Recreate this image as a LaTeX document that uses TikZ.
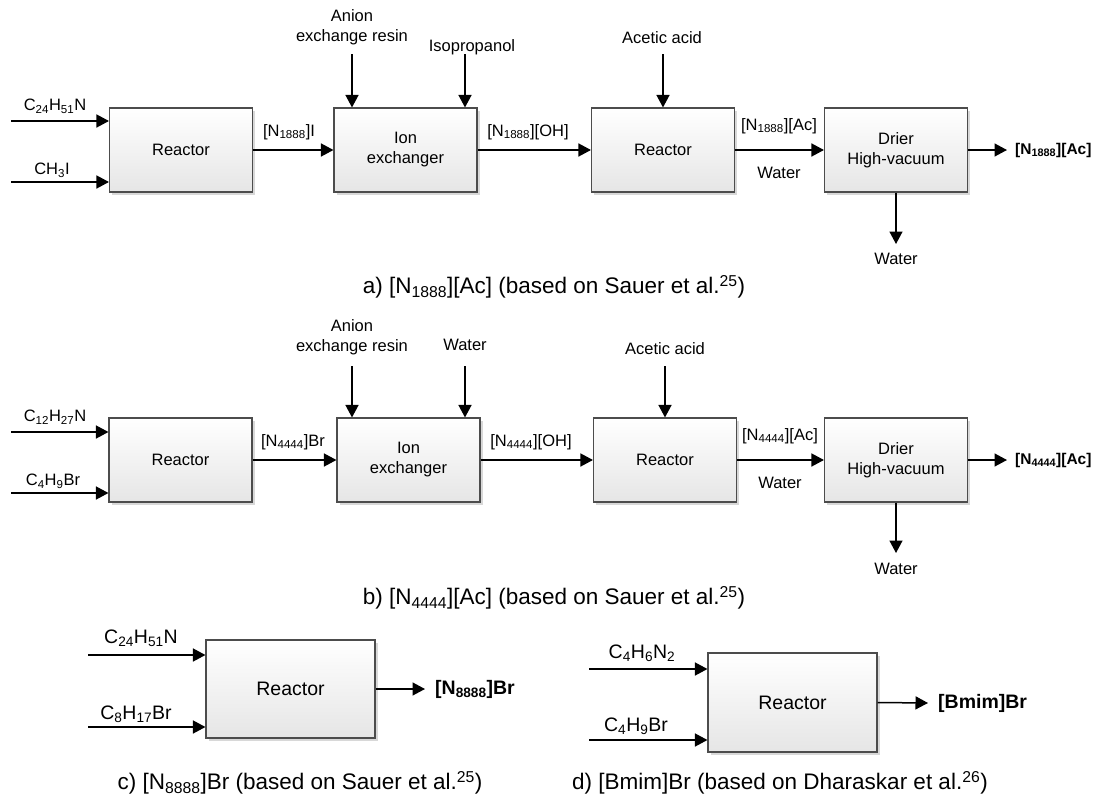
\documentclass[tikz,border=0pt]{standalone}
\usepackage{fontspec}
\setmainfont{Liberation Sans}
\usetikzlibrary{arrows.meta,shadows}
\newcommand\fsA{\fontsize{16.5}{20}\selectfont}
\newcommand\fsO{\fontsize{15.5}{19}\selectfont}
\newcommand\fsB{\fontsize{19.5}{23}\selectfont}
\newcommand\fsC{\fontsize{22.5}{26}\selectfont}
\begin{document}
\begin{tikzpicture}[x=1pt,y=-1pt,
  box/.style={draw=gray!60!black, line width=1.1pt, top color=white, bottom color=gray!20,
    minimum width=143pt, minimum height=84pt, align=center, font=\fsA, inner sep=0pt,
    drop shadow={shadow xshift=2.5pt, shadow yshift=-2.5pt, opacity=0.3, fill=gray}},
  bigbox/.style={box, minimum width=169pt, minimum height=98pt, font=\fsB},
  arr/.style={line width=1.5pt, -{Triangle[length=12.5pt,width=13pt]}},
  lbl/.style={font=\fsA, inner sep=0pt, align=center},
  lblB/.style={font=\fsB, inner sep=0pt, align=center},
  captxt/.style={font=\fsC, inner sep=0pt},
  outl/.style={font=\fsO\bfseries, inner sep=0pt, anchor=west},
  outlB/.style={font=\fsB\bfseries, inner sep=0pt, anchor=west}]
\fill[white] (0,0) rectangle (1096,795);
\useasboundingbox (0,0) rectangle (1096,795);

% ---------------- panel a ----------------
\node[box] (aR) at (181,150) {Reactor};
\node[box] (aI) at (405.5,150) {Ion\\exchanger};
\node[box] (aR2) at (663,150) {Reactor};
\node[box] (aD) at (896,150) {Drier\\High-vacuum};
\coordinate (aIn1) at (11,121);
\coordinate (aIn2) at (11,182);
\draw[arr] (aIn1) -- (aIn1 -| aR.west);
\draw[arr] (aIn2) -- (aIn2 -| aR.west);
\node[lbl] (aL1) at (55,106) {C\textsubscript{24}H\textsubscript{51}N};
\node[lbl] (aL2) at (52,170) {CH\textsubscript{3}I};
\draw[arr] (aR.east) -- (aI.west);
\node[lbl] (aL3) at (289,132) {[N\textsubscript{1888}]I};
\coordinate (aAn) at (352,54);
\draw[arr] (aAn) -- (aAn |- aI.north);
\node[lbl] (aL4) at (352,27) {Anion\\exchange resin};
\coordinate (aIso) at (465,54);
\draw[arr] (aIso) -- (aIso |- aI.north);
\node[lbl] (aL5) at (472,47) {Isopropanol};
\draw[arr] (aI.east) -- (aR2.west);
\node[lbl] (aL6) at (528,132) {[N\textsubscript{1888}][OH]};
\coordinate (aAc) at (663,54);
\draw[arr] (aAc) -- (aR2.north);
\node[lbl] (aL7) at (662,38) {Acetic acid};
\draw[arr] (aR2.east) -- (aD.west);
\node[lbl] (aL8) at (779,126) {[N\textsubscript{1888}][Ac]};
\node[lbl] (aL9) at (779,173) {Water};
\coordinate (aOut) at (1007,150);
\draw[arr] (aD.east) -- (aOut);
\node[outl] (aL10) at (1015,150) {[N\textsubscript{1888}][Ac]};
\coordinate (aW) at (896,244);
\draw[arr] (aD.south) -- (aW);
\node[lbl] (aL11) at (896,259) {Water};
\node[captxt] (aCap) at (554,287) {a) [N\textsubscript{1888}][Ac] (based on Sauer et al.\textsuperscript{25})};

% ---------------- panel b ----------------
\node[box] (bR) at (180.5,460) {Reactor};
\node[box] (bI) at (408.5,460) {Ion\\exchanger};
\node[box] (bR2) at (665,460) {Reactor};
\node[box] (bD) at (896,460) {Drier\\High-vacuum};
\coordinate (bIn1) at (11,432);
\coordinate (bIn2) at (11,493);
\draw[arr] (bIn1) -- (bIn1 -| bR.west);
\draw[arr] (bIn2) -- (bIn2 -| bR.west);
\node[lbl] (bL1) at (55,417) {C\textsubscript{12}H\textsubscript{27}N};
\node[lbl] (bL2) at (53,481) {C\textsubscript{4}H\textsubscript{9}Br};
\draw[arr] (bR.east) -- (bI.west);
\node[lbl] (bL3) at (293,442) {[N\textsubscript{4444}]Br};
\coordinate (bAn) at (352,366);
\draw[arr] (bAn) -- (bAn |- bI.north);
\node[lbl] (bL4) at (352,337.5) {Anion\\exchange resin};
\coordinate (bWa) at (465,366);
\draw[arr] (bWa) -- (bWa |- bI.north);
\node[lbl] (bL5) at (465,345) {Water};
\draw[arr] (bI.east) -- (bR2.west);
\node[lbl] (bL6) at (531,442) {[N\textsubscript{4444}][OH]};
\coordinate (bAc) at (665,366);
\draw[arr] (bAc) -- (bR2.north);
\node[lbl] (bL7) at (665,349) {Acetic acid};
\draw[arr] (bR2.east) -- (bD.west);
\node[lbl] (bL8) at (780,436) {[N\textsubscript{4444}][Ac]};
\node[lbl] (bL9) at (780,483) {Water};
\coordinate (bOut) at (1007,460);
\draw[arr] (bD.east) -- (bOut);
\node[outl] (bL10) at (1015,460) {[N\textsubscript{4444}][Ac]};
\coordinate (bW) at (896,553);
\draw[arr] (bD.south) -- (bW);
\node[lbl] (bL11) at (896,569) {Water};
\node[captxt] (bCap) at (554,598) {b) [N\textsubscript{4444}][Ac] (based on Sauer et al.\textsuperscript{25})};

% ---------------- panel c ----------------
\node[bigbox] (cR) at (290.5,689) {Reactor};
\coordinate (cIn1) at (88,655);
\coordinate (cIn2) at (88,727);
\draw[arr] (cIn1) -- (cIn1 -| cR.west);
\draw[arr] (cIn2) -- (cIn2 -| cR.west);
\node[lblB] (cL1) at (141,638) {C\textsubscript{24}H\textsubscript{51}N};
\node[lblB] (cL2) at (136,714) {C\textsubscript{8}H\textsubscript{17}Br};
\coordinate (cOut) at (425,689);
\draw[arr] (cR.east) -- (cOut);
\node[outlB] (cL3) at (435,689) {[N\textsubscript{8888}]Br};
\node[captxt] (cCap) at (300,783) {c) [N\textsubscript{8888}]Br (based on Sauer et al.\textsuperscript{25})};

% ---------------- panel d ----------------
\node[bigbox, minimum height=99pt] (dR) at (792.5,702.5) {Reactor};
\coordinate (dIn1) at (589,669);
\coordinate (dIn2) at (589,740);
\draw[arr] (dIn1) -- (dIn1 -| dR.west);
\draw[arr] (dIn2) -- (dIn2 -| dR.west);
\node[lblB] (dL1) at (642,653) {C\textsubscript{4}H\textsubscript{6}N\textsubscript{2}};
\node[lblB] (dL2) at (636,726) {C\textsubscript{4}H\textsubscript{9}Br};
\coordinate (dOut) at (928,703);
\draw[arr] (dR.east) -- (dOut);
\node[outlB] (dL3) at (938,703) {[Bmim]Br};
\node[captxt] (dCap) at (780,783) {d) [Bmim]Br (based on Dharaskar et al.\textsuperscript{26})};
\end{tikzpicture}
\end{document}
